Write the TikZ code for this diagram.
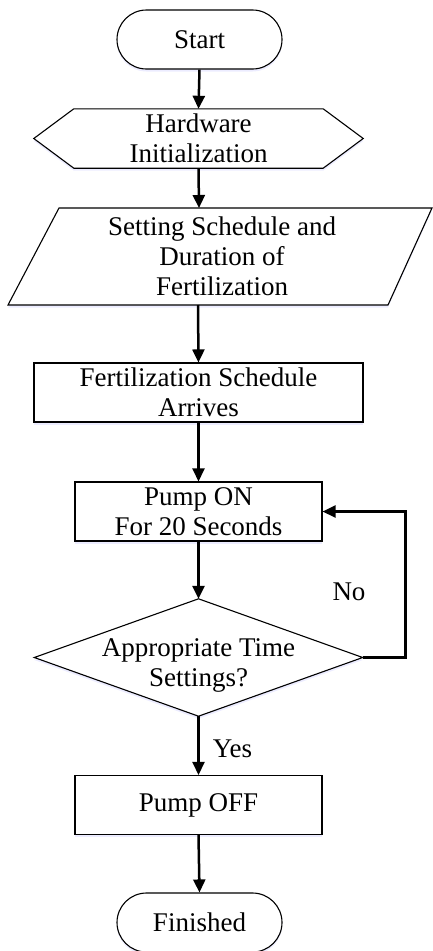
\documentclass[tikz,border=0pt]{standalone}
\usepackage{fontspec}
\setmainfont{Liberation Serif}
\usetikzlibrary{arrows.meta,calc,shadows}
\pgfdeclarelayer{bg}
\pgfsetlayers{bg,main}
\begin{document}
\begin{tikzpicture}[x=1pt,y=-1pt,
  every node/.style={font=\fontsize{27}{30}\selectfont, align=center, inner sep=0pt},
  shp/.style={draw, line width=1.1pt, fill=white,
    drop shadow={shadow xshift=0pt, shadow yshift=-2.5pt, fill=blue!12, opacity=0.6}},
  box/.style={shp, rectangle, minimum width=247pt, minimum height=59pt},
  term/.style={shp, rounded corners=29.5pt, minimum width=165pt, minimum height=59pt},
  arr/.style={line width=2.5pt, -{Triangle[length=13pt,width=12pt]}},
  lbl/.style={font=\fontsize{27}{30}\selectfont}]
\useasboundingbox (0,0) rectangle (433,951);

% nodes
\node[term] (start) at (199.5,39.5) {Start};
\node[minimum width=329pt, minimum height=59pt] (hw) at (198.5,138.5) {Hardware\\Initialization};
\node (set) at (222,256) {Setting Schedule and\\Duration of\\Fertilization};
\coordinate (setin) at (199,208);
\coordinate (setout) at (198,305);
\node[box, minimum width=329pt] (fs) at (198.5,392.5) {Fertilization Schedule\\Arrives};
\node[box] (on) at (198.5,511.5) {Pump ON\\For 20 Seconds};
\node[minimum width=328pt, minimum height=117pt] (dec) at (198.5,657.5) {};
\node (dectext) at (198.5,665) {Appropriate Time\\Settings?};
\node[box] (off) at (198.5,805) {Pump OFF};
\node[term] (fin) at (199.5,922.5) {Finished};
\node[lbl] (no) at (349,592) {No};

% shapes drawn directly
\begin{pgfonlayer}{bg}
  \draw[shp] (hw.west) -- ($(hw.north west)+(40,0)$) -- ($(hw.north east)+(-40,0)$)
    -- (hw.east) -- ($(hw.south east)+(-40,0)$) -- ($(hw.south west)+(40,0)$) -- cycle;
  \draw[shp] (59,208) -- (432,208) -- (388,305) -- (8,305) -- cycle;
  \draw[shp] (dec.north) -- (dec.east) -- (dec.south) -- (dec.west) -- cycle;
\end{pgfonlayer}

% connectors
\draw[arr] (start.south) -- (hw.north);
\draw[arr] (hw.south) -- (setin);
\draw[arr] (setout) -- (fs.north);
\draw[arr] (fs.south) -- (on.north);
\draw[arr] (on.south) -- (dec.north);
\draw[arr] (dec.east) -- ++(43,0) |- (on.east);
\draw[arr] (dec.south) -- (off.north) node[lbl, pos=0.55, anchor=west, xshift=13pt] (yes) {Yes};
\draw[arr] (off.south) -- (fin.north);
\end{tikzpicture}
\end{document}
